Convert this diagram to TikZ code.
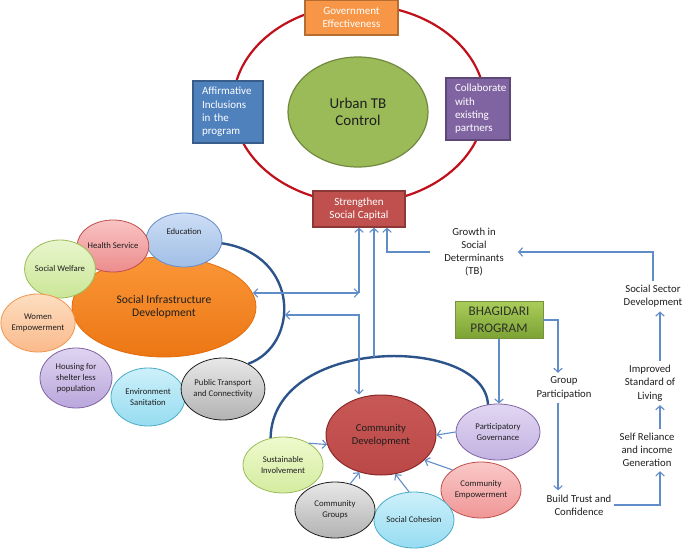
\documentclass[tikz,border=0pt]{standalone}
\usepackage{fontspec}
\setmainfont{Carlito}
\usetikzlibrary{arrows.meta,shapes.geometric,calc}
\definecolor{ringred}{RGB}{192,16,28}
\definecolor{connblue}{RGB}{96,140,200}
\definecolor{arcblue}{RGB}{44,84,138}
\definecolor{txt}{RGB}{30,30,30}
\newcommand\fntSat{\fontsize{8.7}{11}\selectfont}
\newcommand\fntBx{\fontsize{11}{13.3}\selectfont}
\newcommand\fntMid{\fontsize{10.7}{13.3}\selectfont}
\newcommand\fntBig{\fontsize{11.6}{13.6}\selectfont}
\newcommand\fntUrb{\fontsize{15}{17.5}\selectfont}
\newcommand\fntBh{\fontsize{13.2}{16.5}\selectfont}
\begin{document}
\begin{tikzpicture}[x=1pt,y=-1pt,
  >={Straight Barb[length=4pt,width=8.5pt]},
  conn/.style={draw=connblue,line width=1.1pt},
  arcline/.style={draw=arcblue,line width=2.4pt},
  topbox/.style={rectangle,line width=1.2pt,text=white,font=\fntBx,inner sep=0pt},
  sat/.style={ellipse,line width=0.8pt,inner sep=0pt,align=center,font=\fntSat,text=txt},
  plain/.style={align=center,font=\fntMid,text=txt,inner xsep=14pt,inner ysep=4pt}]
\useasboundingbox (0,0) rectangle (685,553);

% ---------- top ring ----------
\draw[ringred,line width=2.2pt] (359,104) ellipse [x radius=126,y radius=99];
\node[ellipse,draw={rgb,255:red,113;green,137;blue,63},fill={rgb,255:red,155;green,187;blue,89},
  line width=1.2pt,minimum width=140,minimum height=110,inner sep=0pt,align=center,font=\fntUrb,text=txt]
  (UTB) at (358,112) {Urban TB\\Control};
\node[topbox,draw={rgb,255:red,182;green,109;blue,49},fill={rgb,255:red,247;green,150;blue,70},
  minimum width=93,minimum height=35,align=center] (GOV) at (351.5,17.5) {Government\\Effectiveness};
\node[topbox,draw={rgb,255:red,56;green,93;blue,138},fill={rgb,255:red,79;green,129;blue,189},
  minimum width=70,minimum height=62,align=left,text width=52] (AFF) at (228,112) {Affirmative\\Inclusions\\in the\\program};
\node[topbox,draw={rgb,255:red,92;green,71;blue,118},fill={rgb,255:red,128;green,100;blue,162},
  minimum width=64,minimum height=62,align=left,text width=46] (COL) at (478,109) {Collaborate\\with\\existing\\partners};
\node[topbox,draw={rgb,255:red,140;green,56;blue,54},fill={rgb,255:red,192;green,80;blue,77},
  minimum width=92,minimum height=36,align=center] (STR) at (359,209) {Strengthen\\Social Capital};

% ---------- social infrastructure ----------
\node[ellipse,draw={rgb,255:red,228;green,108;blue,10},line width=0.8pt,
  top color={rgb,255:red,250;green,150;blue,55},bottom color={rgb,255:red,236;green,118;blue,20},
  minimum width=184,minimum height=100,inner sep=0pt,align=center,font=\fntBig,text=txt]
  (SID) at (164,307) {Social Infrastructure\\Development};
\node[sat,draw={rgb,255:red,100;green,140;blue,200},top color={rgb,255:red,205;green,222;blue,245},bottom color={rgb,255:red,160;green,190;blue,230},
  minimum width=76,minimum height=54] (EDU) at (184,240) {Education\\[6pt]};
\node[sat,draw={rgb,255:red,192;green,80;blue,77},top color={rgb,255:red,250;green,195;blue,195},bottom color={rgb,255:red,236;green,140;blue,140},
  minimum width=70,minimum height=52] (HS) at (113,246) {Health Service};
\node[sat,draw={rgb,255:red,155;green,187;blue,89},top color={rgb,255:red,232;green,246;blue,205},bottom color={rgb,255:red,202;green,230;blue,150},
  minimum width=68,minimum height=58] (SW) at (60,269) {Social Welfare};
\node[sat,draw={rgb,255:red,240;green,150;blue,80},top color={rgb,255:red,253;green,222;blue,192},bottom color={rgb,255:red,250;green,186;blue,140},
  minimum width=74,minimum height=58] (WE) at (38,323) {Women\\Empowerment};
\node[sat,draw={rgb,255:red,128;green,100;blue,162},top color={rgb,255:red,222;green,212;blue,240},bottom color={rgb,255:red,186;green,166;blue,220},
  minimum width=72,minimum height=60] (HO) at (76,378) {Housing for\\shelter less\\population};
\node[sat,draw={rgb,255:red,75;green,172;blue,198},top color={rgb,255:red,205;green,240;blue,250},bottom color={rgb,255:red,150;green,220;blue,240},
  minimum width=74,minimum height=58] (ENV) at (148,397) {Environment\\Sanitation};
\node[sat,draw={rgb,255:red,30;green,30;blue,30},top color={rgb,255:red,232;green,232;blue,232},bottom color={rgb,255:red,178;green,178;blue,178},
  minimum width=80,minimum height=62] (PT) at (223,389) {Public Transport\\and Connectivity};
\draw[arcline] (EDU.-5) .. controls (300,255) and (300,345) .. (PT.45);

% ---------- community ----------
\draw[arcline] (270.6,438.4) .. controls (272,335) and (485,335) .. (488,404.8);
\node[ellipse,draw={rgb,255:red,140;green,40;blue,40},line width=1pt,
  top color={rgb,255:red,200;green,88;blue,86},bottom color={rgb,255:red,186;green,72;blue,70},
  minimum width=110,minimum height=80,inner sep=0pt,align=center,font=\fontsize{10.6}{12.7}\selectfont,text=txt]
  (CD) at (381,435) {Community\\Development};
\node[sat,draw={rgb,255:red,128;green,100;blue,162},top color={rgb,255:red,225;green,215;blue,242},bottom color={rgb,255:red,195;green,178;blue,226},
  minimum width=84,minimum height=56] (PG) at (498,432) {Participatory\\Governance};
\node[sat,draw={rgb,255:red,192;green,80;blue,77},top color={rgb,255:red,250;green,200;blue,200},bottom color={rgb,255:red,240;green,150;blue,150},
  minimum width=80,minimum height=56] (CE) at (481,490) {Community\\Empowerment};
\node[sat,draw={rgb,255:red,75;green,172;blue,198},top color={rgb,255:red,205;green,240;blue,250},bottom color={rgb,255:red,150;green,220;blue,242},
  minimum width=80,minimum height=56] (SC) at (414,520) {Social Cohesion};
\node[sat,draw={rgb,255:red,30;green,30;blue,30},top color={rgb,255:red,232;green,232;blue,232},bottom color={rgb,255:red,178;green,178;blue,178},
  minimum width=80,minimum height=56] (CG) at (335,510) {Community\\Groups};
\node[sat,draw={rgb,255:red,155;green,187;blue,89},top color={rgb,255:red,238;green,250;blue,205},bottom color={rgb,255:red,212;green,236;blue,160},
  minimum width=80,minimum height=56] (SI) at (283,465) {Sustainable\\Involvement};

% ---------- BHAGIDARI and right column ----------
\node[rectangle,draw={rgb,255:red,118;green,146;blue,60},line width=0.6pt,
  top color={rgb,255:red,170;green,204;blue,90},bottom color={rgb,255:red,124;green,162;blue,52},
  minimum width=88,minimum height=37,inner sep=0pt,align=center,font=\fntBh,text={rgb,255:red,45;green,50;blue,40}]
  (BH) at (499,320) {BHAGIDARI\\PROGRAM};
\node[plain] (GR) at (474,252) {Growth in\\Social\\Determinants\\(TB)};
\node[plain,inner xsep=2pt] (SSD) at (653,296) {Social Sector\\Development};
\node[plain,inner xsep=2pt] (IS) at (650,383) {Improved\\Standard of\\Living};
\node[plain,inner xsep=2pt] (SR) at (647,450) {Self Reliance\\and income\\Generation};
\node[plain,inner xsep=2pt] (GP) at (564,388) {Group\\Participation};
\node[plain,inner xsep=2pt] (BT) at (579,505) {Build Trust and\\Confidence};

% ---------- connectors ----------
\coordinate (sidA) at (253,293);
\coordinate (c1) at (359,293);
\coordinate (arcA) at (285,315);
\coordinate (c2) at (359,315);
\coordinate (arcTop) at (374,357);
\draw[conn,<->] (sidA) -- (c1);
\draw[conn,->] (c1) -- (c1 |- STR.south);
\draw[conn,<->] (arcA) -- (c2) -- (c2 |- CD.north);
\draw[conn,->] (arcTop) -- (arcTop |- STR.south);
\draw[conn,->] (GR.west) -| ($(STR.south)+(28,0)$);
\draw[conn,->] (SSD.north) |- (GR.east);
\draw[conn,->] ([xshift=10]IS.north) -- ([xshift=10]IS.north |- SSD.south);
\draw[conn,->] ([xshift=13]SR.north) -- ([xshift=13]SR.north |- IS.south);
\draw[conn,->] (BT.east) -| ([xshift=13]SR.south);
\draw[conn,->] ([xshift=-6]GP.south) -- ([xshift=-6]GP.south |- BT.north);
\draw[conn,->] (BH.east) -| ([xshift=-6]GP.north);
\draw[conn,->] (BH.south) -- (BH.south |- PG.north);
\draw[conn,->] (PG.west) -- (CD.east);
\draw[conn,->] (CE.north west) -- (CD.-30);
\draw[conn,->] (SC.100) -- (CD.-70);
\draw[conn,->] (CG.60) -- (CD.-120);
\draw[conn,->] (SI.40) -- (CD.190);
\end{tikzpicture}
\end{document}
